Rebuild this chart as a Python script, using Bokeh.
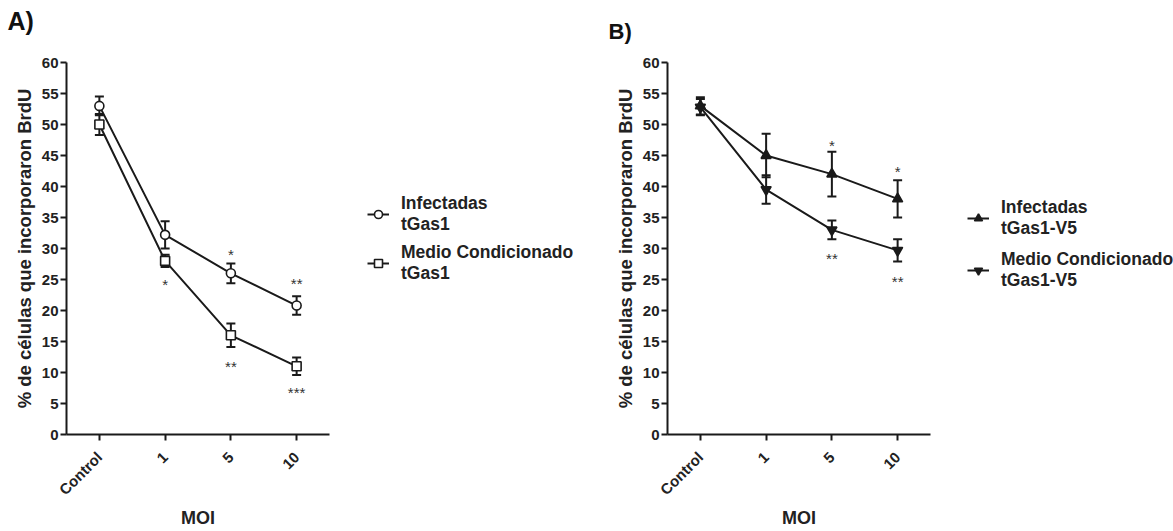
import math
from bokeh.plotting import figure
from bokeh.models import (ColumnDataSource, Whisker, TeeHead, Legend, LegendItem,
                          FactorRange, Range1d, FixedTicker)
from bokeh.layouts import row, column
from bokeh.embed import file_html
from bokeh.resources import INLINE
from bokeh.core.properties import value

# ---------------- data ----------------
moi = ["Control", "1", "5", "10"]

a_inf = [53.0, 32.2, 26.0, 20.8]
a_inf_err = [1.5, 2.2, 1.6, 1.5]
a_med = [50.0, 28.0, 16.0, 11.0]
a_med_err = [1.7, 1.0, 1.9, 1.4]

b_inf = [53.0, 45.0, 42.0, 38.0]
b_inf_err = [1.4, 3.5, 3.6, 3.0]
b_med = [52.8, 39.5, 33.0, 29.7]
b_med_err = [1.3, 2.3, 1.5, 1.8]

a_sig_x = ["1", "5", "10", "5", "10"]
a_sig_y = [24.8, 29.7, 25.0, 11.6, 7.5]
a_sig_t = ["*", "*", "**", "**", "***"]

b_sig_x = ["5", "10", "5", "10"]
b_sig_y = [47.3, 43.1, 29.0, 25.3]
b_sig_t = ["*", "*", "**", "**"]

a_labels = ["Infectadas\ntGas1", "Medio Condicionado\ntGas1"]
b_labels = ["Infectadas\ntGas1-V5", "Medio Condicionado\ntGas1-V5"]

panel_letters = ["A)", "B)"]

y_ticks = list(range(0, 61, 5))

FONT = "Liberation Sans"
INK = "#1a1a1a"
TXT = "#222222"
STRIP_H = 55
PANEL_H = 531 - STRIP_H


def panel(series, sig_x, sig_y, sig_t, width, left, right):
    p = figure(x_range=FactorRange(*moi, range_padding=0), y_range=Range1d(0, 60),
               width=width, height=PANEL_H, output_backend="svg",
               toolbar_location=None, min_border_left=left, min_border_right=right,
               min_border_top=62 - STRIP_H, min_border_bottom=95)
    p.outline_line_color = None
    p.grid.visible = False
    p.background_fill_color = "white"
    p.border_fill_color = "white"

    for ax in (p.xaxis[0], p.yaxis[0]):
        ax.axis_line_width = 2
        ax.axis_line_color = INK
        ax.major_tick_line_width = 2
        ax.major_tick_line_color = INK
        ax.major_tick_in = 0
        ax.major_tick_out = 6
        ax.minor_tick_line_color = None
        ax.major_label_text_font = FONT
        ax.major_label_text_font_style = "bold"
        ax.major_label_text_font_size = "15px"
        ax.major_label_text_color = TXT
        ax.axis_label_text_font = FONT
        ax.axis_label_text_font_style = "bold"
        ax.axis_label_text_color = TXT

    p.yaxis.ticker = FixedTicker(ticks=y_ticks)
    p.yaxis.major_label_standoff = 2
    p.yaxis.axis_label = "% de células que incorporaron BrdU"
    p.yaxis.axis_label_text_font_size = "18.5px"
    p.yaxis.axis_label_standoff = 4
    p.xaxis.axis_label = "MOI"
    p.xaxis.axis_label_text_font_size = "18px"
    p.xaxis.major_label_orientation = math.pi / 4
    p.xaxis.major_label_standoff = 14
    p.xaxis.axis_label_standoff = 1

    for label, vals, errs, marker, fill, size in series:
        src = ColumnDataSource(dict(x=moi, y=vals,
                                    upper=[v + e for v, e in zip(vals, errs)],
                                    lower=[v - e for v, e in zip(vals, errs)]))
        w = Whisker(base="x", upper="upper", lower="lower", source=src,
                    line_color=INK, line_width=2,
                    upper_head=TeeHead(size=9, line_width=2, line_color=INK),
                    lower_head=TeeHead(size=9, line_width=2, line_color=INK))
        p.add_layout(w)
        p.line("x", "y", source=src, line_color=INK, line_width=2)
        p.scatter("x", "y", source=src, marker=marker, size=size,
                  line_color=INK, line_width=1.6, fill_color=fill)

    ss = ColumnDataSource(dict(x=sig_x, y=sig_y, t=sig_t))
    p.text("x", "y", text="t", source=ss, text_align="center",
           text_baseline="middle", text_font=value(FONT), text_font_size="15px",
           text_color="#333333", y_offset=4)
    return p


def legend_fig(width, labels, series_vals, markers, fills, sizes, loc, spacing):
    # legend-only canvas: proxy renderers reuse the series values but lie
    # outside this canvas' 0..1 ranges, so only their legend glyphs show
    q = figure(width=width, height=PANEL_H, x_range=Range1d(0, 1),
               y_range=Range1d(0, 1), output_backend="svg", toolbar_location=None,
               min_border=0, min_border_left=0, min_border_right=0,
               min_border_top=0, min_border_bottom=0)
    q.axis.visible = False
    q.grid.visible = False
    q.outline_line_color = None
    items = []
    for lab, vals, m, f, s in zip(labels, series_vals, markers, fills, sizes):
        xs = list(range(len(vals)))
        lr = q.line(x=xs, y=vals, line_color=INK, line_width=2)
        sr = q.scatter(x=xs, y=vals, marker=m, size=s, line_color=INK,
                       line_width=1.6, fill_color=f)
        items.append(LegendItem(label=lab, renderers=[lr, sr]))
    leg = Legend(items=items, location=loc, border_line_color=None,
                 background_fill_alpha=0, glyph_width=22, glyph_height=20,
                 label_text_font=FONT, label_text_font_style="bold",
                 label_text_font_size="17.5px", label_text_color=TXT,
                 label_standoff=12, spacing=spacing, padding=0, margin=0,
                 label_text_line_height=1.14)
    q.add_layout(leg)
    return q


# top strip carrying the panel letters (pixel-like coordinates, y downwards)
strip = figure(width=1173, height=STRIP_H, x_range=Range1d(0, 1173),
               y_range=Range1d(STRIP_H, 0), output_backend="svg",
               toolbar_location=None, min_border=0, min_border_left=0,
               min_border_right=0, min_border_top=0, min_border_bottom=0)
strip.axis.visible = False
strip.grid.visible = False
strip.outline_line_color = None
strip.text(x=[7], y=[6], text=[panel_letters[0]], text_font=value(FONT),
           text_font_style="bold", text_font_size="25px", text_color="#111111",
           text_baseline="top", text_align="left")
strip.text(x=[608], y=[18], text=[panel_letters[1]], text_font=value(FONT),
           text_font_style="bold", text_font_size="22px", text_color="#111111",
           text_baseline="top", text_align="left")

pa = panel([(a_labels[0], a_inf, a_inf_err, "circle", "white", 9),
            (a_labels[1], a_med, a_med_err, "square", "white", 9)],
           a_sig_x, a_sig_y, a_sig_t, 340, 66, 11)
la = legend_fig(260, a_labels, [a_inf, a_med], ["circle", "square"],
                ["white", "white"], [9, 9], (27, 150), 7)
pb = panel([(b_labels[0], b_inf, b_inf_err, "triangle", INK, 10),
            (b_labels[1], b_med, b_med_err, "inverted_triangle", INK, 10)],
           b_sig_x, b_sig_y, b_sig_t, 340, 67, 10)
lb = legend_fig(233, b_labels, [b_inf, b_med], ["triangle", "inverted_triangle"],
                [INK, INK], [10, 10], (27, 143), 10)

layout = column(strip, row(pa, la, pb, lb))
open("out.html", "w").write(file_html(layout, INLINE))
